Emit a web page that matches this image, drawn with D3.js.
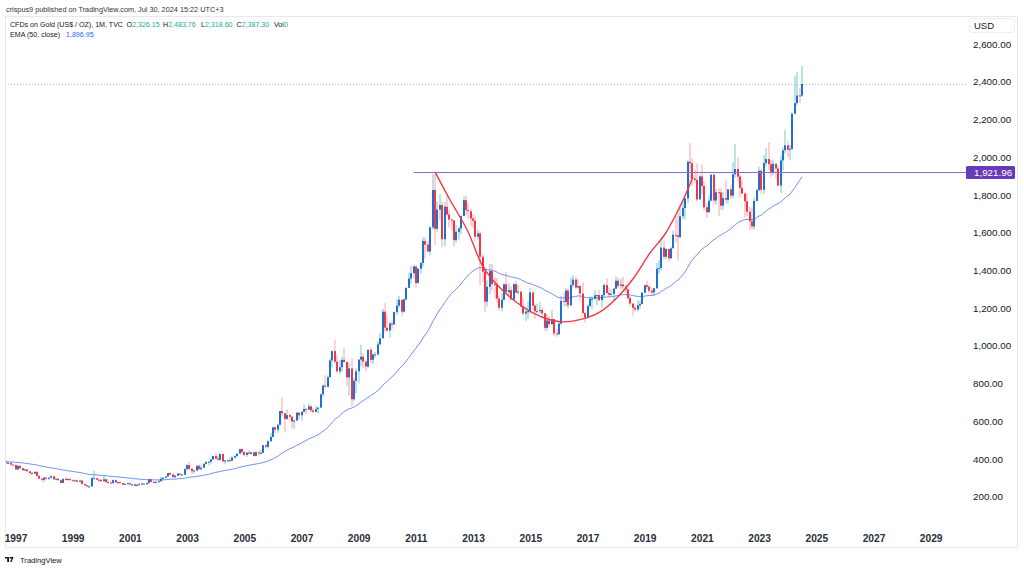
<!DOCTYPE html>
<html><head><meta charset="utf-8">
<script src="https://cdn.jsdelivr.net/npm/d3@7"></script>
<style>
body{margin:0;background:#fff;}
svg{display:block;font-family:"Liberation Sans",Arial,sans-serif;}
</style>
</head><body>
<svg id="c" width="1024" height="569"></svg>
<script>
// ---- DATA (monthly, Sep 1996 .. Jul 2024) ----
const firstMonth = "1996-09";
const firstOpen = 387;
const closes = [
379,379,371,369,
345,364,352,340,345,335,326,324,332,311,296,290,
302,297,301,309,293,296,288,273,294,292,294,288,
287,287,280,286,268,261,255,255,299,299,291,290,
283,293,278,275,272,288,276,278,273,264,269,272,
266,266,258,264,267,270,266,273,293,279,275,279,
282,296,301,308,326,318,304,312,323,317,317,347,
368,348,336,339,364,346,354,375,384,386,398,416,
402,396,427,387,393,394,391,408,416,429,453,438,
422,434,428,436,417,436,430,433,473,465,495,517,
568,556,582,654,643,613,633,624,599,604,646,632,
650,665,662,679,658,650,665,673,743,789,783,834,
923,972,916,865,887,926,914,833,880,717,815,865,
927,942,916,890,979,926,954,955,1008,1040,1181,1096,
1081,1118,1113,1179,1213,1244,1181,1246,1307,1357,1385,1421,
1333,1409,1439,1556,1536,1500,1628,1826,1620,1722,1746,1565,
1737,1696,1669,1664,1560,1604,1622,1688,1772,1719,1713,1675,
1663,1578,1596,1472,1393,1234,1313,1396,1327,1323,1250,1202,
1244,1326,1284,1295,1246,1327,1282,1287,1208,1171,1182,1184,
1283,1213,1183,1184,1190,1172,1095,1134,1115,1142,1065,1061,
1118,1238,1233,1293,1215,1322,1351,1309,1316,1277,1173,1151,
1211,1249,1249,1268,1269,1242,1269,1322,1280,1271,1275,1303,
1345,1318,1325,1315,1299,1253,1224,1201,1192,1215,1222,1282,
1321,1313,1292,1283,1305,1409,1413,1520,1472,1513,1464,1517,
1589,1585,1577,1687,1730,1781,1975,1968,1886,1879,1776,1898,
1847,1734,1708,1769,1906,1770,1814,1813,1743,1783,1774,1829,
1796,1909,1937,1897,1837,1807,1766,1711,1660,1633,1768,1824,
1928,1827,1969,1990,1962,1919,1965,1940,1849,1983,2036,2063,
2039,2044,2230,2286,2327,2326.15,2387.30
];
const highs = [
388,387,384,372,
370,366,366,353,349,347,335,330,336,335,313,300,
305,304,304,316,310,298,297,292,300,306,300,296,
293,291,291,291,289,269,264,260,305,338,300,292,
292,316,295,292,280,292,292,280,279,274,272,276,
272,268,270,265,273,274,271,280,294,294,282,282,
293,305,305,310,327,332,325,316,326,326,322,350,
372,382,353,341,368,371,370,377,390,389,400,417,
428,418,430,428,395,397,409,414,420,429,456,457,
440,439,447,437,437,443,437,448,474,477,499,538,
571,575,585,655,730,643,664,643,627,607,650,648,
653,690,673,695,688,672,682,676,748,795,845,842,
934,975,1033,952,925,942,988,918,912,935,830,881,
929,1006,961,927,981,990,960,968,1024,1070,1195,1226,
1161,1128,1135,1181,1249,1265,1245,1251,1310,1388,1424,1431,
1424,1412,1447,1575,1577,1557,1632,1913,1921.96,1764,1803,1764,
1764,1791,1718,1676,1668,1640,1631,1691,1790,1796,1755,1725,
1696,1685,1617,1605,1487,1419,1348,1434,1434,1362,1361,1267,
1280,1333,1392,1331,1315,1332,1345,1321,1288,1256,1208,1238,
1307,1287,1224,1224,1232,1205,1175,1170,1157,1191,1143,1088,
1130,1263,1283,1306,1304,1362,1375,1367,1352,1324,1338,1180,
1220,1264,1261,1295,1271,1296,1272,1331,1357,1306,1299,1307,
1366,1361,1356,1365,1326,1309,1266,1225,1214,1243,1237,1284,
1326,1346,1324,1310,1306,1439,1453,1555,1557,1518,1515,1525,
1611,1689,1704,1747,1765,1786,1984,2075,1993,1933,1966,1906,
1959,1872,1755,1798,1912,1916,1832,1834,1834,1813,1877,1831,
1853,1974,2070,1998,1909,1879,1814,1807,1735,1729,1786,1833,
1949,1935,2009,2048,2079,1984,1987,1966,1953,2009,2052,2146,
2088,2065,2236,2431,2450,2369,2483.76
];
const lows = [
378,377,368,366,
341,340,346,337,337,334,314,318,318,308,294,283,
278,288,289,298,289,286,286,272,273,288,287,285,
284,282,277,278,267,256,252,251,254,296,289,279,
280,282,274,272,270,272,275,270,270,263,262,266,
263,255,256,255,262,265,264,265,270,278,272,272,
276,282,290,298,306,316,302,301,310,313,315,317,
342,342,322,322,338,343,341,352,372,366,375,396,
399,393,391,386,372,385,385,391,401,411,427,428,
415,411,426,423,414,414,417,430,433,457,455,490,
517,539,540,579,624,542,606,610,562,560,604,609,
603,648,636,660,650,642,648,641,669,731,779,777,
834,885,906,858,849,862,913,786,736,681,705,749,
801,891,881,864,884,908,904,936,949,1003,1041,1075,
1075,1045,1088,1113,1163,1200,1157,1175,1241,1307,1330,1360,
1309,1330,1382,1419,1462,1496,1478,1616,1534,1604,1664,1523,
1527,1690,1627,1611,1527,1547,1563,1592,1686,1694,1672,1635,
1626,1555,1563,1321,1338,1180,1208,1271,1292,1251,1227,1187,
1182,1239,1277,1268,1241,1241,1280,1273,1204,1161,1131,1141,
1167,1191,1142,1172,1170,1162,1077,1080,1098,1112,1052,1046,
1061,1111,1209,1207,1199,1208,1310,1302,1303,1241,1171,1122,
1146,1208,1195,1245,1214,1236,1205,1260,1271,1260,1264,1236,
1302,1307,1303,1302,1281,1246,1211,1160,1180,1182,1196,1221,
1276,1300,1280,1266,1267,1301,1382,1400,1459,1458,1445,1459,
1517,1548,1451,1567,1671,1670,1758,1863,1848,1860,1764,1775,
1803,1717,1677,1705,1766,1750,1751,1688,1721,1722,1758,1753,
1780,1781,1890,1872,1787,1805,1681,1688,1615,1617,1616,1764,
1823,1805,1804,1950,1932,1893,1903,1884,1846,1810,1931,2017,
2001,1984,2039,2228,2277,2286,2318.60
];
const emaPeriod = 50;
const emaSeed = 386;
const yearTicks = [1997,1999,2001,2003,2005,2007,2009,2011,2013,2015,2017,2019,2021,2023,2025,2027,2029];
const priceTicks = [200,400,600,800,1000,1200,1400,1600,1800,2000,2200,2400,2600];
const resistanceLevel = 1921.96;
const resistanceStart = 2010.92;
const lastPrice = 2387.30;
// rounding "cup" annotation, anchor points (decimal year, price)
const cupYears  = [2011.67,2012.19,2012.79,2013.35,2013.94,2014.54,2015.09,2015.69,2016.15,2016.84,2017.44,2018.03,2018.62,2019.19,2019.70,2020.23,2020.69];
const cupPrices = [1922,1774,1615,1419,1308,1228,1175,1138,1127,1143,1180,1255,1361,1493,1590,1737,1895];

// ---- layout ----
const svg = d3.select("#c");
const W = 1024, H = 569;
const plotL = 5, plotR = 966, plotT = 16, plotB = 525;

const startY = +firstMonth.slice(0,4), startM = +firstMonth.slice(5,7) - 1;
const baseIdx = (startY - 1997) * 12 + startM; // month index relative to Jan 1997
const x = d3.scaleLinear().domain([0, (2029 - 1997) * 12]).range([15.5, 930.7]);
const y = d3.scaleLinear().domain([200, 2600]).range([496.8, 43.9]);
const xYear = yr => x((yr - 1997) * 12);

const bars = closes.map((c, i) => ({
  idx: baseIdx + i,
  o: i === 0 ? firstOpen : closes[i - 1],
  h: highs[i], l: lows[i], c
}));

// EMA
const alpha = 2 / (emaPeriod + 1);
let prev = emaSeed;
const ema = closes.map((c, i) => { prev = alpha * c + (1 - alpha) * prev; return { idx: baseIdx + i, v: prev }; });

// frame
svg.append("rect").attr("x", 5.5).attr("y", 16.5).attr("width", 1012).attr("height", 531)
  .attr("fill", "none").attr("stroke", "#e6e8ee");

const clip = svg.append("defs").append("clipPath").attr("id", "pc")
  .append("rect").attr("x", plotL + 1).attr("y", plotT + 1).attr("width", plotR - plotL - 1).attr("height", plotB - plotT);
const plot = svg.append("g").attr("clip-path", "url(#pc)");

// last price dotted line
plot.append("line").attr("x1", plotL).attr("x2", plotR)
  .attr("y1", Math.round(y(lastPrice)) + 0.5).attr("y2", Math.round(y(lastPrice)) + 0.5)
  .attr("stroke", "#9fb6f3").attr("stroke-width", 1).attr("stroke-dasharray", "1,2");

// EMA line
plot.append("path").datum(ema)
  .attr("d", d3.line().x(d => x(d.idx)).y(d => y(d.v)))
  .attr("fill", "none").attr("stroke", "#6f8ff5").attr("stroke-width", 1);

// candles
const up = d => d.c >= d.o;
const px = d => Math.round(x(d.idx));
plot.append("g").selectAll("rect").data(bars).join("rect")
  .attr("x", d => px(d) - 0.5).attr("width", 1)
  .attr("y", d => y(d.h)).attr("height", d => Math.max(0.5, y(d.l) - y(d.h)))
  .attr("fill", d => up(d) ? "rgba(38,166,154,0.6)" : "rgba(242,54,69,0.45)");
plot.append("g").selectAll("rect").data(bars).join("rect")
  .attr("x", d => px(d) - 1).attr("width", 2)
  .attr("y", d => y(Math.max(d.o, d.c)))
  .attr("height", d => Math.max(1, Math.abs(y(d.o) - y(d.c))))
  .attr("fill", d => up(d) ? "#1f6fd6" : "#f23645");

// cup curve
const cup = cupYears.map((yr, i) => ({ yr, p: cupPrices[i] }));
plot.append("path").datum(cup)
  .attr("d", d3.line().curve(d3.curveCatmullRom).x(d => xYear(d.yr)).y(d => y(d.p)))
  .attr("fill", "none").attr("stroke", "#f23645").attr("stroke-width", 1.4);

// resistance line
const ry = Math.round(y(resistanceLevel)) + 0.5;
svg.append("line").attr("x1", xYear(resistanceStart)).attr("x2", plotR)
  .attr("y1", ry).attr("y2", ry).attr("stroke", "#8e6bd8").attr("stroke-width", 1);

// price axis
const yAxis = svg.append("g").attr("transform", "translate(973,0)")
  .call(d3.axisRight(y).tickValues(priceTicks).tickFormat(d3.format(",.2f")).tickSize(0).tickPadding(0));
yAxis.select(".domain").remove();
yAxis.selectAll("text").attr("fill", "#131722").attr("font-size", "9.8px").attr("font-family", "Liberation Sans, Arial, sans-serif");

// resistance label
svg.append("rect").attr("x", 966).attr("y", ry - 6.5).attr("width", 49).attr("height", 13).attr("rx", 1.5)
  .attr("fill", "#673ab7");
svg.append("text").attr("x", 974).attr("y", ry).attr("dy", "0.35em").attr("fill", "#fff")
  .attr("font-size", "9.8px").text(d3.format(",.2f")(resistanceLevel));

// USD box
svg.append("rect").attr("x", 969.5).attr("y", 18.5).attr("width", 45).attr("height", 14).attr("rx", 2)
  .attr("fill", "#fff").attr("stroke", "#eceef2");
svg.append("text").attr("x", 974).attr("y", 25.5).attr("dy", "0.35em").attr("fill", "#131722")
  .attr("font-size", "9.5px").text("USD");

// time axis
const xAxis = svg.append("g").attr("transform", "translate(0,534.5)")
  .call(d3.axisBottom(x).tickValues(yearTicks.map(yr => (yr - 1997) * 12))
    .tickFormat((d, i) => String(yearTicks[i])).tickSize(0).tickPadding(0));
xAxis.select(".domain").remove();
xAxis.selectAll("text").attr("fill", "#2a2e39").attr("font-size", "10.2px").attr("font-weight", "bold")
  .attr("font-family", "Liberation Sans, Arial, sans-serif");

// header
svg.append("text").attr("x", 6).attr("y", 11.5).attr("font-size", "7.3px").attr("fill", "#333")
  .text("crispus9 published on TradingView.com, Jul 30, 2024 15:22 UTC+3");
const green = "#22ab94";
const l2 = [
  { x: 10, t: "CFDs on Gold (US$ / OZ), 1M, TVC", c: "#131722" },
  { x: 126.5, t: "O", c: "#131722" }, { v: "2,326.15" },
  { x: 163, t: "H", c: "#131722" }, { v: "2,483.76" },
  { x: 201, t: "L", c: "#131722" }, { v: "2,318.60" },
  { x: 236.5, t: "C", c: "#131722" }, { v: "2,387.30" },
  { x: 274, t: "Vol", c: "#131722" }, { v: "0" }
];
const t2 = svg.append("text").attr("y", 27).attr("font-size", "7.1px");
l2.forEach(s => {
  if (s.t) t2.append("tspan").attr("x", s.x).attr("fill", s.c).text(s.t);
  else t2.append("tspan").attr("fill", green).text(s.v);
});
const t3 = svg.append("text").attr("y", 36.5).attr("font-size", "7.1px");
t3.append("tspan").attr("x", 10).attr("fill", "#131722").text("EMA (50, close)");
t3.append("tspan").attr("x", 66).attr("fill", "#2962ff").text("1,896.95");

// footer logo
const logo = svg.append("g").attr("transform", "translate(5,557)");
logo.append("path").attr("d", "M0,0 H4 V5 H2.2 V1.6 H0 Z M4.6,0 H8.6 L6.6,5 H5.2 L6.6,1.6 H4.6 Z").attr("fill", "#131722");
svg.append("text").attr("x", 20).attr("y", 562.5).attr("font-size", "7.6px").attr("fill", "#131722")
  .text("TradingView");
</script>
</body></html>
